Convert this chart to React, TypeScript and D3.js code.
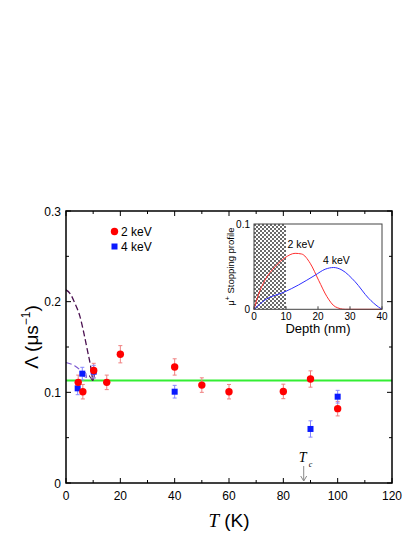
import React from "react";
import * as d3 from "d3";

const temps2 = [4.5, 6.2, 10.2, 15, 20, 40, 50, 60, 80, 90, 100];
const lambda2 = [0.111, 0.1007, 0.124, 0.111, 0.142, 0.128, 0.108, 0.1007, 0.101, 0.1147, 0.082];
const err2 = [0.008, 0.008, 0.008, 0.008, 0.0095, 0.009, 0.008, 0.008, 0.008, 0.009, 0.008];

const temps4 = [4.3, 6.0, 10.2, 40, 90, 100];
const lambda4 = [0.1044, 0.1206, 0.1228, 0.1007, 0.0596, 0.0952];
const err4 = [0.007, 0.007, 0.007, 0.007, 0.009, 0.007];

const normalLevel = 0.113;

const darkCurveT = [0, 1.5, 3.3, 5.15, 6.6, 7.85, 9.1, 9.8];
const darkCurveL = [0.213, 0.209, 0.198, 0.1835, 0.165, 0.1467, 0.128, 0.114];
const lightCurveT = [0, 3.3, 5.8, 7.4];
const lightCurveL = [0.133, 0.129, 0.1228, 0.117];

const xTicks = [0, 20, 40, 60, 80, 100, 120];
const yTicks = [0, 0.1, 0.2, 0.3];
const yTickLabels = ["0", "0.1", "0.2", "0.3"];

const depth2 = [0, 1.36, 3.45, 6.6, 9.7, 12.85, 14.9, 17.55, 20.2, 22.8, 25.4, 28.5, 40];
const profile2 = [0, 0.0168, 0.0343, 0.05, 0.0605, 0.0656, 0.0648, 0.054, 0.034, 0.0148, 0.003, 0, 0];
const depth4 = [0, 3.45, 9.7, 13.9, 19.1, 22.25, 24.9, 27.5, 31.6, 35.8, 38.9, 40];
const profile4 = [0, 0.011, 0.0206, 0.0285, 0.04, 0.047, 0.049, 0.046, 0.0323, 0.013, 0.0027, 0];
const insetXTicks = [0, 10, 20, 30, 40];
const insetYTicks = [0, 0.1];
const insetYTickLabels = ["0", "0.1"];

const Tc = 87.5;

const SANS = "'Liberation Sans', Arial, sans-serif";
const SERIF = "'Liberation Serif', 'Times New Roman', serif";

export default function App() {
  const L = 66, R = 392, T = 211, B = 483;
  const x = d3.scaleLinear().domain([0, 120]).range([L, R]);
  const y = d3.scaleLinear().domain([0, 0.3]).range([B, T]);

  const iL = 254, iR = 382, iT = 224, iB = 309.3;
  const ix = d3.scaleLinear().domain([0, 40]).range([iL, iR]);
  const iy = d3.scaleLinear().domain([0, 0.1]).range([iB, iT]);

  const mainLine = d3.line<[number, number]>().x(d => x(d[0])).y(d => y(d[1])).curve(d3.curveMonotoneX);
  const insetLine = d3.line<[number, number]>().x(d => ix(d[0])).y(d => iy(d[1])).curve(d3.curveMonotoneX);

  const dark = darkCurveT.map((t, i) => [t, darkCurveL[i]] as [number, number]);
  const light = lightCurveT.map((t, i) => [t, lightCurveL[i]] as [number, number]);
  const p2 = depth2.map((d, i) => [d, profile2[i]] as [number, number]);
  const p4 = depth4.map((d, i) => [d, profile4[i]] as [number, number]);

  const minorX = d3.range(0, 121, 10);
  const minorY = d3.range(0, 0.301, 0.05);

  return (
    <svg width={415} height={537} style={{ position: "absolute", left: 0, top: 0, background: "#fff" }}>
      <defs>
        <pattern id="chk" width={4} height={4} patternUnits="userSpaceOnUse" x={iL} y={iT}>
          <rect width={4} height={4} fill="#fff" />
          <rect width={2} height={2} fill="#6a6a6a" />
          <rect x={2} y={2} width={2} height={2} fill="#6a6a6a" />
        </pattern>
        <marker id="arrDark" viewBox="0 0 10 10" refX={8} refY={5} markerWidth={5} markerHeight={5} orient="auto">
          <path d="M0,0 L10,5 L0,10" fill="none" stroke="#4a1050" strokeWidth={1.5} />
        </marker>
        <marker id="arrLight" viewBox="0 0 10 10" refX={8} refY={5} markerWidth={5} markerHeight={5} orient="auto">
          <path d="M0,0 L10,5 L0,10" fill="none" stroke="#7a55d0" strokeWidth={1.5} />
        </marker>
      </defs>

      {/* green normal-state line */}
      <line x1={L} x2={R} y1={y(normalLevel)} y2={y(normalLevel)} stroke="#33ee33" strokeWidth={2} />

      {/* dashed curves */}
      <path d={mainLine(dark) || ""} fill="none" stroke="#4a1050" strokeWidth={1.3} strokeDasharray="6,3" markerEnd="url(#arrDark)" />
      <path d={mainLine(light) || ""} fill="none" stroke="#7a55d0" strokeWidth={1.1} strokeDasharray="6,3" markerEnd="url(#arrLight)" />

      {/* error bars */}
      {temps2.map((t, i) => (
        <g key={"e2" + i} stroke="#f08080" strokeWidth={1}>
          <line x1={x(t)} x2={x(t)} y1={y(lambda2[i] - err2[i])} y2={y(lambda2[i] + err2[i])} />
          <line x1={x(t) - 2} x2={x(t) + 2} y1={y(lambda2[i] - err2[i])} y2={y(lambda2[i] - err2[i])} />
          <line x1={x(t) - 2} x2={x(t) + 2} y1={y(lambda2[i] + err2[i])} y2={y(lambda2[i] + err2[i])} />
        </g>
      ))}
      {temps4.map((t, i) => (
        <g key={"e4" + i} stroke="#8888ff" strokeWidth={1}>
          <line x1={x(t)} x2={x(t)} y1={y(lambda4[i] - err4[i])} y2={y(lambda4[i] + err4[i])} />
          <line x1={x(t) - 2} x2={x(t) + 2} y1={y(lambda4[i] - err4[i])} y2={y(lambda4[i] - err4[i])} />
          <line x1={x(t) - 2} x2={x(t) + 2} y1={y(lambda4[i] + err4[i])} y2={y(lambda4[i] + err4[i])} />
        </g>
      ))}

      {/* markers */}
      {temps4.map((t, i) => (
        <rect key={"m4" + i} x={x(t) - 3} y={y(lambda4[i]) - 3} width={6} height={6} fill="#0a1aff" />
      ))}
      {temps2.map((t, i) => (
        <circle key={"m2" + i} cx={x(t)} cy={y(lambda2[i])} r={3.7} fill="#ff0000" />
      ))}

      {/* main frame */}
      <rect x={L} y={T} width={R - L} height={B - T} fill="none" stroke="#000" strokeWidth={1.5} />
      {minorX.map(v => {
        const len = v % 20 === 0 ? 5 : 3;
        return (
          <g key={"tx" + v} stroke="#000" strokeWidth={1}>
            <line x1={x(v)} x2={x(v)} y1={B} y2={B - len} />
            <line x1={x(v)} x2={x(v)} y1={T} y2={T + len} />
          </g>
        );
      })}
      {minorY.map((v, k) => {
        const len = k % 2 === 0 ? 5 : 3;
        return (
          <g key={"ty" + k} stroke="#000" strokeWidth={1}>
            <line x1={L} x2={L + len} y1={y(v)} y2={y(v)} />
            <line x1={R} x2={R - len} y1={y(v)} y2={y(v)} />
          </g>
        );
      })}
      {xTicks.map(v => (
        <text key={"xl" + v} x={x(v)} y={500} textAnchor="middle" fontFamily={SANS} fontSize={12}>{v}</text>
      ))}
      {yTicks.map((v, i) => (
        <text key={"yl" + v} x={61} y={y(v) + 4.5} textAnchor="end" fontFamily={SANS} fontSize={12}>{yTickLabels[i]}</text>
      ))}

      {/* axis titles */}
      <text x={229} y={527} textAnchor="middle" fontSize={19}>
        <tspan fontFamily={SERIF} fontStyle="italic">T</tspan>
        <tspan fontFamily={SANS}> (K)</tspan>
      </text>
      <text transform={`translate(38,${(T + B) / 2 - 10}) rotate(-90)`} textAnchor="middle" fontFamily={SANS} fontSize={19}>
        Λ (μs<tspan dy={-8} fontSize={12}>−1</tspan><tspan dy={8}>)</tspan>
      </text>

      {/* Tc marker */}
      <text x={x(Tc) - 1} y={462} textAnchor="middle" fontFamily={SERIF} fontStyle="italic" fontSize={14}>T</text>
      <text x={x(Tc) + 5} y={467} fontFamily={SERIF} fontStyle="italic" fontSize={8}>c</text>
      <line x1={x(Tc)} x2={x(Tc)} y1={466} y2={481} stroke="#888" strokeWidth={1} />
      <path d={`M${x(Tc) - 3},${476} L${x(Tc)},${481} L${x(Tc) + 3},${476}`} fill="none" stroke="#888" strokeWidth={1} />

      {/* legend */}
      <circle cx={114.5} cy={231.5} r={3.7} fill="#ff0000" />
      <text x={121} y={236} fontFamily={SANS} fontSize={12}>2 keV</text>
      <rect x={111.5} y={243.5} width={6} height={6} fill="#0a1aff" />
      <text x={121} y={251} fontFamily={SANS} fontSize={12}>4 keV</text>

      {/* inset */}
      <rect x={ix(0)} y={iT} width={ix(10) - ix(0)} height={iB - iT} fill="url(#chk)" />
      <path d={insetLine(p2) || ""} fill="none" stroke="#ff3030" strokeWidth={1} />
      <path d={insetLine(p4) || ""} fill="none" stroke="#3030ff" strokeWidth={1} />
      <rect x={iL} y={iT} width={iR - iL} height={iB - iT} fill="none" stroke="#444" strokeWidth={1} />
      {insetXTicks.map(v => (
        <g key={"ix" + v}>
          <line x1={ix(v)} x2={ix(v)} y1={iB} y2={iB - 3} stroke="#444" />
          <text x={ix(v)} y={iB + 11} textAnchor="middle" fontFamily={SANS} fontSize={10}>{v}</text>
        </g>
      ))}
      {insetYTicks.map((v, i) => (
        <text key={"iy" + v} x={iL - 4} y={iy(v) + 3.5} textAnchor="end" fontFamily={SANS} fontSize={10}>{insetYTickLabels[i]}</text>
      ))}
      <text x={(iL + iR) / 2} y={333} textAnchor="middle" fontFamily={SANS} fontSize={13}>Depth (nm)</text>
      <text transform={`translate(234,${(iT + iB) / 2}) rotate(-90)`} textAnchor="middle" fontFamily={SANS} fontSize={9.5}>
        μ<tspan dy={-4} fontSize={7}>+</tspan><tspan dy={4}> Stopping profile</tspan>
      </text>
      <text x={287.5} y={248} fontFamily={SANS} fontSize={10.5}>2 keV</text>
      <text x={323} y={264} fontFamily={SANS} fontSize={10.5}>4 keV</text>
    </svg>
  );
}
